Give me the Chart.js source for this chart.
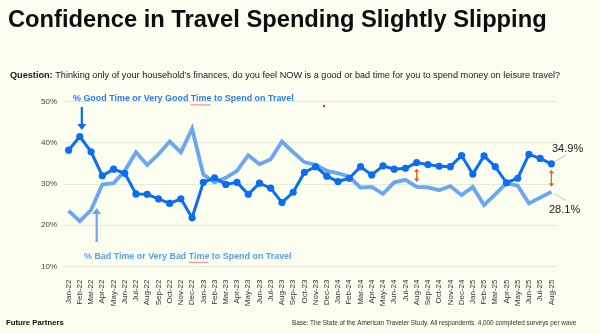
<!DOCTYPE html>
<html>
<head>
<meta charset="utf-8">
<script src="https://cdn.jsdelivr.net/npm/chart.js@4.4.1/dist/chart.umd.min.js"></script>
<style>
  html, body { margin: 0; padding: 0; background: #fbfdee; }
  #wrap { position: relative; width: 600px; height: 334px; }
</style>
</head>
<body>
<div id="wrap"><canvas id="travelChart" width="600" height="334"></canvas></div>
<script>
// monthly waves, Jan-22 .. Aug-25
const months = ['Jan-22', 'Feb-22', 'Mar-22', 'Apr-22', 'May-22', 'Jun-22', 'Jul-22', 'Aug-22', 'Sep-22', 'Oct-22', 'Nov-22', 'Dec-22',
  'Jan-23', 'Feb-23', 'Mar-23', 'Apr-23', 'May-23', 'Jun-23', 'Jul-23', 'Aug-23', 'Sep-23', 'Oct-23', 'Nov-23', 'Dec-23',
  'Jan-24', 'Feb-24', 'Mar-24', 'Apr-24', 'May-24', 'Jun-24', 'Jul-24', 'Aug-24', 'Sep-24', 'Oct-24', 'Nov-24', 'Dec-24',
  'Jan-25', 'Feb-25', 'Mar-25', 'Apr-25', 'May-25', 'Jun-25', 'Jul-25', 'Aug-25'];

const goodTime = [38.2, 41.5, 37.8, 32.0, 33.6, 32.6, 27.6, 27.5, 26.4, 25.3, 26.4, 21.8,
  30.4, 31.5, 29.9, 30.4, 27.5, 30.2, 29.0, 25.5, 28.0, 32.8, 34.2, 31.9,
  30.6, 31.4, 34.2, 32.2, 34.4, 33.6, 33.8, 35.2, 34.7, 34.3, 34.2, 36.9,
  32.4, 36.8, 34.2, 30.3, 31.4, 37.2, 36.2, 34.9];

const badTime = [23.5, 21.0, 23.7, 29.9, 30.2, 33.2, 37.7, 34.6, 37.2, 40.3, 37.7, 43.4,
  32.3, 30.4, 31.5, 33.2, 37.0, 34.8, 36.0, 40.3, 37.7, 35.3, 34.6, 33.2,
  32.6, 31.8, 29.1, 29.3, 27.6, 30.4, 31.0, 29.3, 29.2, 28.5, 29.5, 27.3,
  29.3, 24.9, 27.5, 30.2, 29.6, 25.3, 26.7, 28.1];

const yTicks = [10, 20, 30, 40, 50];

const titleText = 'Confidence in Travel Spending Slightly Slipping';
const questionLead = 'Question:';
const questionText = ' Thinking only of your household\u2019s finances, do you feel NOW is a good or bad time for you to spend money on leisure travel?';
const goodLabel = '% Good Time or Very Good Time to Spend on Travel';
const badLabel = '% Bad Time or Very Bad Time to Spend on Travel';
const brandText = 'Future Partners';
const baseText = 'Base: The State of the American Traveler Study. All respondents. 4,000 completed surveys per wave';

const DARK = '#0b6cf4';
const LIGHT = '#6aa6f4';
const ORANGE = '#f0582c';
const SANS = '"Liberation Sans", Arial, sans-serif';

// font size that makes text span a given width
function fitSize(ctx, text, weight, width) {
  ctx.font = weight + ' 100px ' + SANS;
  return 100 * width / ctx.measureText(text).width;
}

function arrowHead(ctx, x, y, dir, size) {
  ctx.beginPath();
  ctx.moveTo(x, y);
  ctx.lineTo(x - size * 0.75, y - dir * size);
  ctx.lineTo(x + size * 0.75, y - dir * size);
  ctx.closePath();
  ctx.fill();
}

function redSquiggle(ctx, x1, x2, y) {
  ctx.save();
  ctx.strokeStyle = '#e8524a';
  ctx.lineWidth = 0.8;
  ctx.beginPath();
  for (let x = x1, k = 0; x <= x2; x += 1.5, k++) {
    const yy = y + (k % 2 ? 0.8 : 0);
    if (k === 0) ctx.moveTo(x, yy); else ctx.lineTo(x, yy);
  }
  ctx.stroke();
  ctx.restore();
}

const pageText = {
  id: 'pageText',
  beforeDraw(chart) {
    const ctx = chart.ctx;
    ctx.save();
    ctx.textBaseline = 'middle';
    ctx.fillStyle = '#0d0d0d';

    let s = fitSize(ctx, titleText, 'bold', 539);
    ctx.font = 'bold ' + s + 'px ' + SANS;
    ctx.fillText(titleText, 8, 20);

    // question line: bold lead, regular rest
    ctx.font = 'bold 100px ' + SANS;
    const wLead = ctx.measureText(questionLead).width;
    ctx.font = '100px ' + SANS;
    const wRest = ctx.measureText(questionText).width;
    s = 100 * 551 / (wLead + wRest);
    ctx.fillStyle = '#1a1a1a';
    ctx.font = 'bold ' + s + 'px ' + SANS;
    ctx.fillText(questionLead, 10, 75);
    ctx.font = s + 'px ' + SANS;
    ctx.fillText(questionText, 10 + wLead * s / 100, 75);

    s = fitSize(ctx, brandText, 'bold', 58);
    ctx.font = 'bold ' + s + 'px ' + SANS;
    ctx.fillStyle = '#0d0d0d';
    ctx.fillText(brandText, 6, 322.5);

    s = fitSize(ctx, baseText, 'normal', 285);
    ctx.font = s + 'px ' + SANS;
    ctx.fillStyle = '#333';
    ctx.fillText(baseText, 292, 323);
    ctx.restore();
  }
};

const notes = {
  id: 'notes',
  afterDatasetsDraw(chart) {
    const ctx = chart.ctx;
    const x = chart.scales.x;
    const y = chart.scales.y;
    ctx.save();
    ctx.textBaseline = 'middle';

    // series labels
    let s = fitSize(ctx, goodLabel, 'bold', 221);
    ctx.font = 'bold ' + s + 'px ' + SANS;
    ctx.fillStyle = '#2a7cf4';
    ctx.fillText(goodLabel, 73, 99);
    const gPre = ctx.measureText('% Good Time or Very Good ').width;
    const gWord = ctx.measureText('Time').width;
    redSquiggle(ctx, 73 + gPre, 73 + gPre + gWord, 104.5);

    s = fitSize(ctx, badLabel, 'bold', 208);
    ctx.font = 'bold ' + s + 'px ' + SANS;
    ctx.fillStyle = '#5b9cf4';
    ctx.fillText(badLabel, 84, 256.5);
    const bPre = ctx.measureText('% Bad Time or Very Bad ').width;
    const bWord = ctx.measureText('Time').width;
    redSquiggle(ctx, 84 + bPre, 84 + bPre + bWord, 262);

    // pointer arrows
    ctx.lineWidth = 2.2;
    ctx.strokeStyle = DARK;
    ctx.fillStyle = DARK;
    const ax = x.getPixelForValue(1) + 2;
    ctx.beginPath(); ctx.moveTo(ax, 107); ctx.lineTo(ax, 124); ctx.stroke();
    arrowHead(ctx, ax, 130, 1, 6);

    ctx.strokeStyle = LIGHT;
    ctx.fillStyle = LIGHT;
    const bx = (x.getPixelForValue(2) + x.getPixelForValue(3)) / 2;
    ctx.beginPath(); ctx.moveTo(bx, 242); ctx.lineTo(bx, 214); ctx.stroke();
    arrowHead(ctx, bx, 208, -1, 6);

    // gap markers between the two series
    ctx.strokeStyle = ORANGE;
    ctx.fillStyle = ORANGE;
    ctx.lineWidth = 1.3;
    [31, 43].forEach(function (i) {
      const px = x.getPixelForValue(i);
      const top = y.getPixelForValue(goodTime[i]) + 6;
      const bot = y.getPixelForValue(badTime[i]) - 5;
      ctx.beginPath(); ctx.moveTo(px, top + 3); ctx.lineTo(px, bot - 3); ctx.stroke();
      arrowHead(ctx, px, top, -1, 3.5);
      arrowHead(ctx, px, bot, 1, 3.5);
    });

    // end value callouts
    const last = goodTime.length - 1;
    const ex = x.getPixelForValue(last);
    const gy = y.getPixelForValue(goodTime[last]);
    const by = y.getPixelForValue(badTime[last]);
    ctx.strokeStyle = '#b8bab0';
    ctx.lineWidth = 0.8;
    ctx.beginPath(); ctx.moveTo(ex + 3, gy - 2); ctx.lineTo(ex + 15, gy - 9); ctx.stroke();
    ctx.beginPath(); ctx.moveTo(ex + 3, by + 2); ctx.lineTo(ex + 15, by + 9); ctx.stroke();
    ctx.fillStyle = '#1a1a1a';
    ctx.font = '11px ' + SANS;
    ctx.fillText(goodTime[last].toFixed(1) + '%', 552, 148.5);
    ctx.fillText(badTime[last].toFixed(1) + '%', 549, 209.5);

    // stray red dot
    ctx.fillStyle = '#e8302a';
    ctx.beginPath(); ctx.arc(324, 106, 1.2, 0, Math.PI * 2); ctx.fill();
    ctx.restore();
  }
};

const ctx = document.getElementById('travelChart').getContext('2d');

const travelChart = new Chart(ctx, {
  type: 'line',
  data: {
    labels: months,
    datasets: [
      {
        label: 'Good Time',
        data: goodTime,
        borderColor: DARK,
        backgroundColor: DARK,
        borderWidth: 3,
        tension: 0,
        pointRadius: 3.6,
        pointBackgroundColor: DARK,
        pointBorderWidth: 0,
        order: 1
      },
      {
        label: 'Bad Time',
        data: badTime,
        borderColor: LIGHT,
        backgroundColor: LIGHT,
        borderWidth: 3.8,
        tension: 0,
        pointRadius: 0,
        order: 2
      }
    ]
  },
  options: {
    responsive: false,
    animation: false,
    layout: { padding: { top: 101.5, right: 43, left: 0, bottom: 0 } },
    plugins: {
      legend: { display: false },
      tooltip: { enabled: false }
    },
    scales: {
      y: {
        min: 10,
        max: 50,
        afterFit: function (scale) { scale.width = 63; },
        afterBuildTicks: function (scale) { scale.ticks = yTicks.map(function (v) { return { value: v }; }); },
        grid: { color: '#e6e9da', lineWidth: 1, drawTicks: false },
        border: { display: false },
        ticks: {
          padding: 6,
          color: '#444',
          font: { size: 8, family: SANS },
          callback: function (value) { return value + '%'; }
        }
      },
      x: {
        offset: true,
        afterFit: function (scale) { scale.height = 67.5; },
        grid: { display: false },
        border: { display: false },
        ticks: {
          autoSkip: false,
          minRotation: 90,
          maxRotation: 90,
          padding: 5,
          color: '#333',
          font: { size: 8, family: SANS }
        }
      }
    }
  },
  plugins: [pageText, notes]
});
</script>
</body>
</html>
